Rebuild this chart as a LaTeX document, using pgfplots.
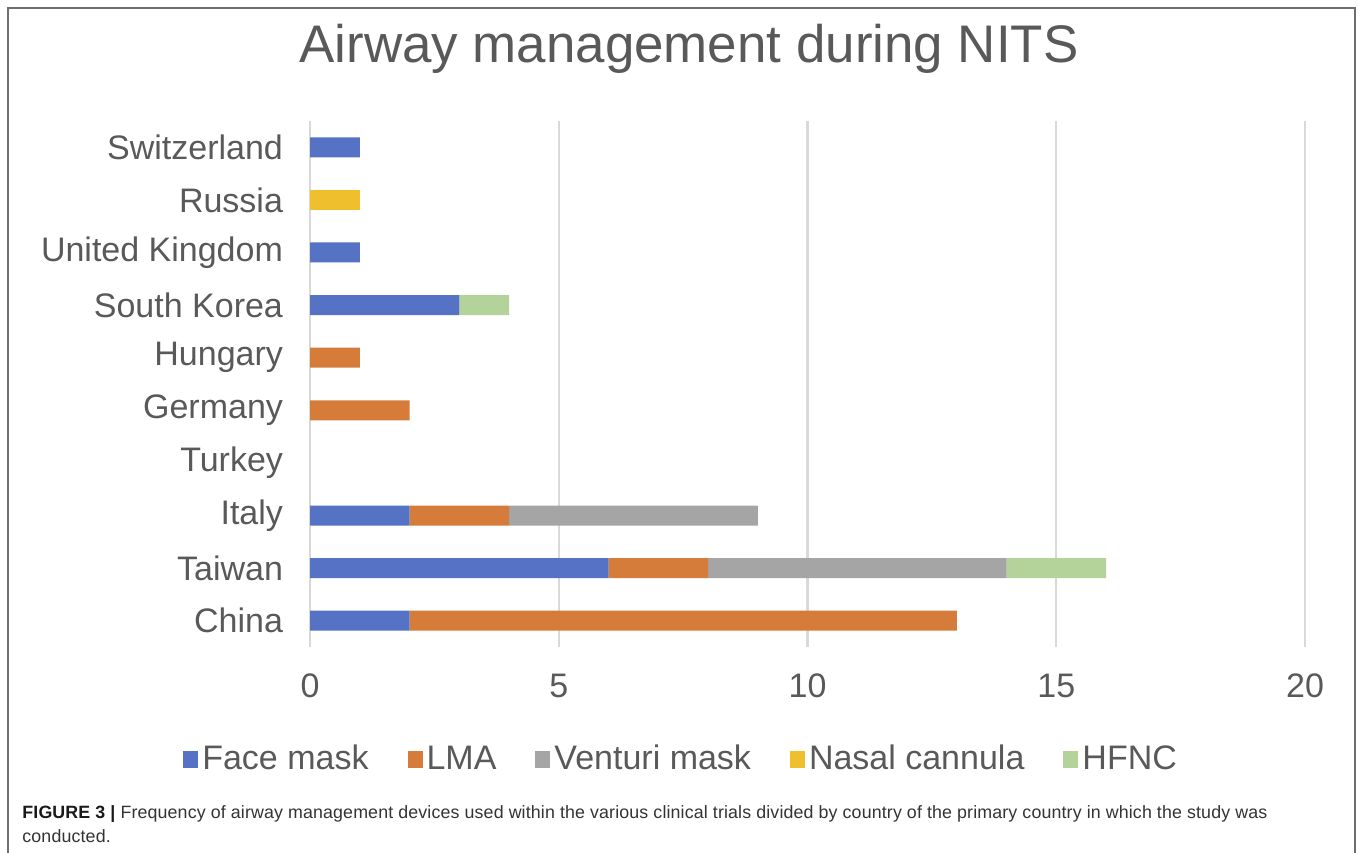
\documentclass[border=0pt]{standalone}
\usepackage{pgfplots}
\pgfplotsset{compat=1.18}
\usepackage{fontspec}
\setmainfont{Liberation Sans}
\newfontfamily\capfont[LetterSpace=0.8]{Liberation Sans}
\definecolor{cface}{HTML}{5572C4}
\definecolor{clma}{HTML}{D57C3A}
\definecolor{cvent}{HTML}{A5A5A5}
\definecolor{cnasal}{HTML}{F0BF2E}
\definecolor{chfnc}{HTML}{B3D39A}
\definecolor{labelgray}{HTML}{595959}
\definecolor{gridgray}{HTML}{D9D9D9}
\definecolor{framegray}{HTML}{6E6E6E}
\begin{document}
\begin{tikzpicture}
\begin{axis}[
  at={(155pt,102.5pt)}, anchor=south west,
  scale only axis, width=497.5pt, height=263pt,
  xbar stacked, bar width=10pt,
  xmin=0, xmax=20, ymin=-0.5, ymax=9.5,
  enlargelimits=false, clip=false,
  xtick={0,5,10,15,20},
  ytick={0,...,9},
  yticklabels={China,Taiwan,Italy,Turkey,Germany,Hungary,South Korea,United Kingdom,Russia,Switzerland},
  axis line style={draw=none},
  major tick style={draw=none},
  xmajorgrids, grid style={line width=1.2pt, color=gridgray},
  ticklabel style={font=\fontsize{17}{20}\selectfont, text=labelgray},
  yticklabel style={xshift=-10pt},
  xticklabel style={yshift=-10pt},
  /pgf/number format/assume math mode=true,
  legend columns=-1,
  legend style={at={(0.374,-0.213)}, anchor=center, draw=none, fill=none,
    font=\fontsize{17}{20}\selectfont, text=labelgray,
    /tikz/every even column/.append style={column sep=17.5pt}},
  legend image code/.code={\fill[#1] (0pt,-4.25pt) rectangle (7.5pt,4.25pt);},
  every axis plot/.append style={draw=none},
]
\addplot[fill=cface] coordinates {(2,0) (6,1) (2,2) (0,3) (0,4) (0,5) (3,6) (1,7) (0,8) (1,9)};
\addplot[fill=clma] coordinates {(11,0) (2,1) (2,2) (0,3) (2,4) (1,5) (0,6) (0,7) (0,8) (0,9)};
\addplot[fill=cvent] coordinates {(0,0) (6,1) (5,2) (0,3) (0,4) (0,5) (0,6) (0,7) (0,8) (0,9)};
\addplot[fill=cnasal] coordinates {(0,0) (0,1) (0,2) (0,3) (0,4) (0,5) (0,6) (0,7) (1,8) (0,9)};
\addplot[fill=chfnc] coordinates {(0,0) (2,1) (0,2) (0,3) (0,4) (0,5) (1,6) (0,7) (0,8) (0,9)};
\legend{Face mask, LMA, Venturi mask, Nasal cannula, HFNC}
\end{axis}
\node[anchor=base, text=labelgray, font=\fontsize{26.45}{32}\selectfont] at (344.5pt,394.5pt) {Airway management during NITS};
\node[anchor=base west, align=left, inner sep=0pt, text=black!80, font=\capfont\fontsize{8.9}{11.7}\selectfont] at (11pt,5pt)
  {\textbf{\color{black!90}FIGURE 3 |} Frequency of airway management devices used within the various clinical trials divided by country of the primary country in which the study was\\conducted.};
\draw[framegray, line width=0.8pt] (4pt,-2pt) -- (4pt,422pt) -- (677.5pt,422pt) -- (677.5pt,-2pt);
\pgfresetboundingbox
\path[use as bounding box] (0pt,0pt) rectangle (679pt,426pt);
\end{tikzpicture}
\end{document}
